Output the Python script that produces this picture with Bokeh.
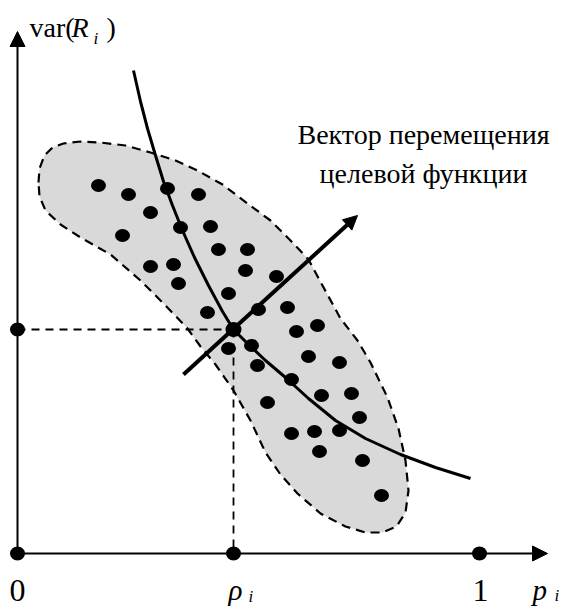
from bokeh.plotting import figure
from bokeh.models import Range1d, Arrow, NormalHead
from bokeh.core.properties import value
from bokeh.embed import file_html
from bokeh.resources import INLINE

# ---- data (diagram coordinates, y grows downward) ----
dots_x = [98, 128, 167, 198, 150, 180, 210, 122, 218, 247, 245, 276, 150, 173, 178,
          228, 207, 258, 287, 296, 228, 251, 317, 257, 308, 339, 291, 267, 321, 351,
          359, 291, 314, 339, 319, 362, 381]
dots_y = [185, 194, 188, 194, 212, 227, 226, 235, 249, 249, 270, 276, 266, 264, 283,
          293, 312, 309, 307, 331, 348, 345, 325, 365, 356, 362, 379, 402, 395, 393,
          417, 433, 431, 430, 451, 460, 495]

center_x = [233]
center_y = [329]

axis_dots_x = [17, 233, 479, 17]
axis_dots_y = [553, 553, 553, 329]

curve_x = [133, 140, 147, 155, 163, 172, 182, 194, 208, 222, 233, 248, 265, 285,
           308, 335, 365, 400, 435, 470]
curve_y = [70, 101, 128, 155, 181, 205, 230, 257, 285, 311, 329, 344, 360, 377,
           398, 420, 438, 454, 467, 478]

blob_x = [38, 39, 44, 52, 63, 80, 100, 125, 150, 175, 197, 222, 247, 270, 290, 308,
          322, 340, 357, 370, 387, 398, 405, 408, 405, 396, 382, 365, 345, 320, 297,
          280, 265, 250, 233, 215, 200, 187, 165, 140, 110, 80, 60, 45, 39]
blob_y = [182, 168, 155, 147, 143, 141, 142, 145, 152, 160, 170, 184, 203, 220, 240,
          259, 285, 318, 340, 362, 397, 428, 460, 490, 512, 526, 532, 532, 526, 513,
          493, 474, 452, 420, 390, 364, 346, 328, 305, 280, 254, 237, 224, 210, 196]

origin = (17, 553)
x_axis_end = 547
y_axis_end = 31
vector_start = (183, 374)
vector_end = (357, 215)

title_lines = ["Вектор перемещения", "целевой функции"]
title_x = [423, 423]
title_y = [134, 173]

p = figure(width=562, height=607, x_range=Range1d(0, 562), y_range=Range1d(607, 0),
           output_backend="svg", toolbar_location=None, min_border=0,
           x_axis_type=None, y_axis_type=None)
p.grid.visible = False
p.outline_line_color = None
p.background_fill_color = "white"

FONT = value("Liberation Serif")

# blob
p.patch(blob_x, blob_y, fill_color="#d9d9d9", line_color="black", line_width=2.2,
        line_dash="9 6")

# dashed guides
p.line([origin[0], center_x[0]], [center_y[0], center_y[0]], line_color="black",
       line_width=1.8, line_dash="8 6")
p.line([center_x[0], center_x[0]], [center_y[0], origin[1]], line_color="black",
       line_width=1.8, line_dash="8 6")

# axes
p.add_layout(Arrow(end=NormalHead(size=15, fill_color="black", line_color="black"),
                   x_start=origin[0], y_start=origin[1], x_end=x_axis_end, y_end=origin[1],
                   line_width=2, line_color="black"))
p.add_layout(Arrow(end=NormalHead(size=15, fill_color="black", line_color="black"),
                   x_start=origin[0], y_start=origin[1], x_end=origin[0], y_end=y_axis_end,
                   line_width=2, line_color="black"))

# curve
p.line(curve_x, curve_y, line_color="black", line_width=3)

# vector
p.add_layout(Arrow(end=NormalHead(size=14, fill_color="black", line_color="black"),
                   x_start=vector_start[0], y_start=vector_start[1],
                   x_end=vector_end[0], y_end=vector_end[1],
                   line_width=4, line_color="black"))

# dots
p.ellipse(dots_x, dots_y, width=15, height=13, fill_color="black", line_color=None)
p.ellipse(center_x, center_y, width=16, height=15, fill_color="black", line_color=None)
p.ellipse(axis_dots_x, axis_dots_y, width=15, height=14, fill_color="black", line_color=None)

# texts
def txt(x, y, s, size, style="normal", align="left", baseline="middle"):
    p.text([x], [y], text=[s], text_font=FONT, text_font_size=f"{size}px",
           text_font_style=style, text_align=align, text_baseline=baseline,
           text_color="black")

txt(29, 27, "var(", 28)
txt(71, 27, "R", 28, "italic")
txt(93, 38, "i", 17, "italic")
txt(106, 27, ")", 28)

for s, x, y in zip(title_lines, title_x, title_y):
    txt(x, y, s, 28, align="center")

txt(17, 590, "0", 32, align="center")
txt(480, 590, "1", 32, align="center")
txt(228, 589, "ρ", 29, "italic")
txt(248, 596, "i", 17, "italic")
txt(532, 589, "p", 29, "italic")
txt(554, 595, "i", 17, "italic")

open("out.html", "w").write(file_html(p, INLINE))
